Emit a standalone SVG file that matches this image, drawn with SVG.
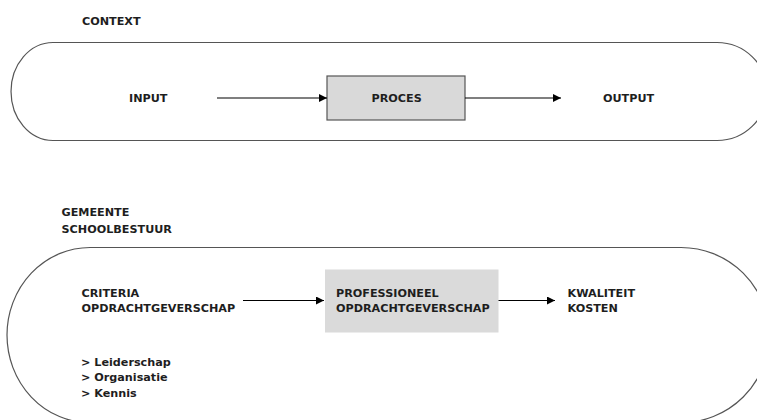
<svg xmlns="http://www.w3.org/2000/svg" width="757" height="420" viewBox="0 0 757 420">
  <defs>
    <marker id="arrow" viewBox="0 0 10 10" refX="10" refY="5" markerWidth="8" markerHeight="8" markerUnits="userSpaceOnUse" orient="auto">
      <path d="M0,0 L10,5 L0,10 Z" fill="#000"/>
    </marker>
    <style>
      text { font-family: "DejaVu Sans", Verdana, sans-serif; font-weight: bold; font-size: 11.2px; fill: #1e1e1e; }
      .stadium { fill: #fff; stroke: #555; stroke-width: 1.2; }
      .proc { fill: #d9d9d9; stroke: #555; stroke-width: 1.2; }
      .proc2 { fill: #dadada; stroke: none; }
      .conn { stroke: #000; stroke-width: 1.2; fill: none; marker-end: url(#arrow); }
    </style>
  </defs>
  <rect width="757" height="420" fill="#fff"/>

  <!-- Upper model: context -->
  <g id="context-label">
    <text x="82" y="25">CONTEXT</text>
  </g>
  <g id="context">
    <path class="stadium" d="M53,42.5 H717 A50 49 0 0 1 717,140.5 H53 A42 49 0 0 1 53,42.5 Z"/>
  </g>
  <g id="input">
    <text x="129" y="102">INPUT</text>
  </g>
  <g id="proces">
    <rect class="proc" x="327" y="76" width="138" height="44"/>
    <text x="371.5" y="101.5">PROCES</text>
  </g>
  <g id="output">
    <text x="603" y="101.5">OUTPUT</text>
  </g>

  <!-- Lower model: municipality / school board -->
  <g id="gemeente-label">
    <text x="61.5" y="216">GEMEENTE</text>
    <text x="61.5" y="232.5">SCHOOLBESTUUR</text>
  </g>
  <g id="gemeente">
    <path class="stadium" d="M90,247.5 H681 A88 87.6 0 0 1 681,422.7 H90 A83 87.6 0 0 1 90,247.5 Z"/>
  </g>
  <g id="criteria">
    <text x="81.5" y="296.5">CRITERIA</text>
    <text x="81.5" y="311.5">OPDRACHTGEVERSCHAP</text>
  </g>
  <g id="professioneel">
    <rect class="proc2" x="325" y="269.5" width="173.5" height="63"/>
    <text x="336" y="296.5">PROFESSIONEEL</text>
    <text x="336" y="311.5">OPDRACHTGEVERSCHAP</text>
  </g>
  <g id="kwaliteit">
    <text x="567.5" y="296.5">KWALITEIT</text>
    <text x="567.5" y="312">KOSTEN</text>
  </g>
  <g id="aspecten">
    <text x="81" y="365.5">&gt; Leiderschap</text>
    <text x="81" y="381">&gt; Organisatie</text>
    <text x="81" y="396.5">&gt; Kennis</text>
  </g>

  <!-- Connectors -->
  <g id="connectors">
    <line class="conn" x1="217" y1="98" x2="327" y2="98"/>
    <line class="conn" x1="465" y1="98" x2="561" y2="98"/>
    <line class="conn" x1="243" y1="300.5" x2="324" y2="300.5"/>
    <line class="conn" x1="498.5" y1="300.5" x2="555" y2="300.5"/>
  </g>
</svg>
